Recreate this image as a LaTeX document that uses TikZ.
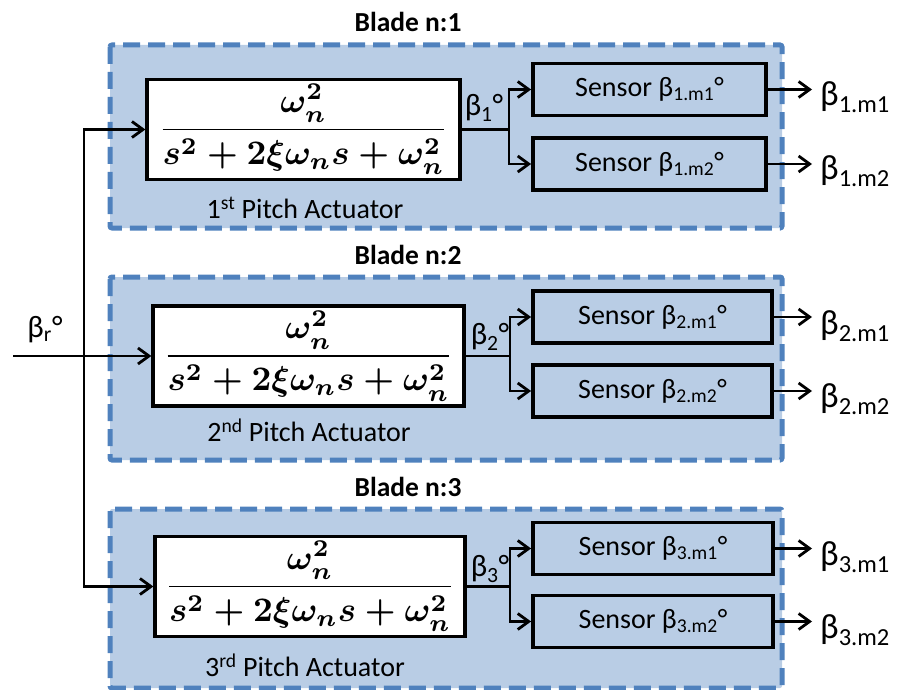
\documentclass[tikz,border=0pt]{standalone}
\usepackage{amsmath}
\usepackage[no-math]{fontspec}
\setmainfont{Carlito}
\usetikzlibrary{arrows.meta}
\definecolor{bladefill}{HTML}{B9CDE5}
\definecolor{bladeedge}{HTML}{4F81BD}
\newcommand{\tfexpr}{\resizebox{290pt}{!}{\boldmath$\displaystyle\frac{\omega_n^2}{s^2+2\xi\omega_n s+\omega_n^2}$}}
\begin{document}
\begin{tikzpicture}[x=1pt,y=-1pt,
  blade/.style={fill=bladefill, draw=bladeedge, line width=5pt, dash pattern=on 17pt off 8pt, rounded corners=2pt},
  tfbox/.style={draw=black, fill=white, line width=3.3pt, inner sep=0pt, minimum height=100pt},
  sensorbox/.style={draw=black, line width=3.8pt, inner sep=0pt, minimum height=52pt, font=\fontsize{28}{32}\selectfont},
  plainline/.style={line width=2.8pt},
  conn/.style={line width=2.8pt, -{Straight Barb[length=11pt,width=16pt,line width=2.8pt]}},
  title/.style={font=\bfseries\fontsize{27.5}{32}\selectfont},
  actlbl/.style={font=\fontsize{28}{32}\selectfont, inner sep=0pt},
  lbl/.style={font=\fontsize{31}{34}\selectfont, inner sep=0pt},
  outlbl/.style={font=\fontsize{35}{40}\selectfont, inner xsep=8pt, inner ysep=0pt, anchor=west}
]
\useasboundingbox (0,0) rectangle (900,690);

% blade boxes
\path[blade] (110,45) rectangle (782,228);
\path[blade] (110,277) rectangle (782,460);
\path[blade] (110,509) rectangle (782,688);

% titles
\node[title] (t1) at (408,22) {Blade n:1};
\node[title] (t2) at (408,255) {Blade n:2};
\node[title] (t3) at (408,487) {Blade n:3};

% transfer function boxes
\node[tfbox, minimum width=313pt] (tf1) at (303.5,129.5) {\tfexpr};
\node[tfbox, minimum width=311pt] (tf2) at (308.5,356) {\tfexpr};
\node[tfbox, minimum width=310pt] (tf3) at (310,586.5) {\tfexpr};

% actuator labels
\node[actlbl] (a1) at (305,208) {1\textsuperscript{st} Pitch Actuator};
\node[actlbl] (a2) at (309,430) {2\textsuperscript{nd} Pitch Actuator};
\node[actlbl] (a3) at (305,665) {3\textsuperscript{rd} Pitch Actuator};

% sensors
\node[sensorbox, minimum width=233pt] (s11) at (649.5,89.5) {Sensor β\textsubscript{1.m1}°};
\node[sensorbox, minimum width=233pt] (s12) at (649.5,164) {Sensor β\textsubscript{1.m2}°};
\node[sensorbox, minimum width=239pt] (s21) at (652.5,317) {Sensor β\textsubscript{2.m1}°};
\node[sensorbox, minimum width=239pt] (s22) at (652.5,391) {Sensor β\textsubscript{2.m2}°};
\node[sensorbox, minimum width=240pt] (s31) at (653,548.5) {Sensor β\textsubscript{3.m1}°};
\node[sensorbox, minimum width=240pt] (s32) at (653,621.5) {Sensor β\textsubscript{3.m2}°};

% signal labels
\node[lbl] (b1) at (484,108) {β\textsubscript{1}°};
\node[lbl] (b2) at (490,337) {β\textsubscript{2}°};
\node[lbl] (b3) at (490,569) {β\textsubscript{3}°};
\node[lbl] (br) at (45,330) {β\textsubscript{r}°};

% output labels
\node[outlbl] (o11) at (812,97) {β\textsubscript{1.m1}};
\node[outlbl] (o12) at (812,171) {β\textsubscript{1.m2}};
\node[outlbl] (o21) at (812,326) {β\textsubscript{2.m1}};
\node[outlbl] (o22) at (812,399) {β\textsubscript{2.m2}};
\node[outlbl] (o31) at (812,557) {β\textsubscript{3.m1}};
\node[outlbl] (o32) at (812,630) {β\textsubscript{3.m2}};

% input distribution
\coordinate (in) at (13,356);
\coordinate (vtop) at (84,129.5);
\coordinate (vbot) at (84,586.5);
\draw[conn] (in) -- (tf2.west);
\draw[plainline] (vtop) -- (vbot);
\draw[conn] (vbot) -- (vtop) -- (tf1.west);
\draw[conn] (vtop) -- (vbot) -- (tf3.west);

% branches
\coordinate (j1) at (509,129.5);
\coordinate (j2) at (510,356);
\coordinate (j3) at (510,586.5);
\draw[plainline] (tf1.east) -- (j1);
\draw[plainline] (tf2.east) -- (j2);
\draw[plainline] (tf3.east) -- (j3);
\draw[conn] (j1) |- (s11.west);
\draw[conn] (j1) |- (s12.west);
\draw[conn] (j2) |- (s21.west);
\draw[conn] (j2) |- (s22.west);
\draw[conn] (j3) |- (s31.west);
\draw[conn] (j3) |- (s32.west);

% outputs
\draw[conn] (s11.east) -- (s11.east -| o11.west);
\draw[conn] (s12.east) -- (s12.east -| o12.west);
\draw[conn] (s21.east) -- (s21.east -| o21.west);
\draw[conn] (s22.east) -- (s22.east -| o22.west);
\draw[conn] (s31.east) -- (s31.east -| o31.west);
\draw[conn] (s32.east) -- (s32.east -| o32.west);
\end{tikzpicture}
\end{document}
